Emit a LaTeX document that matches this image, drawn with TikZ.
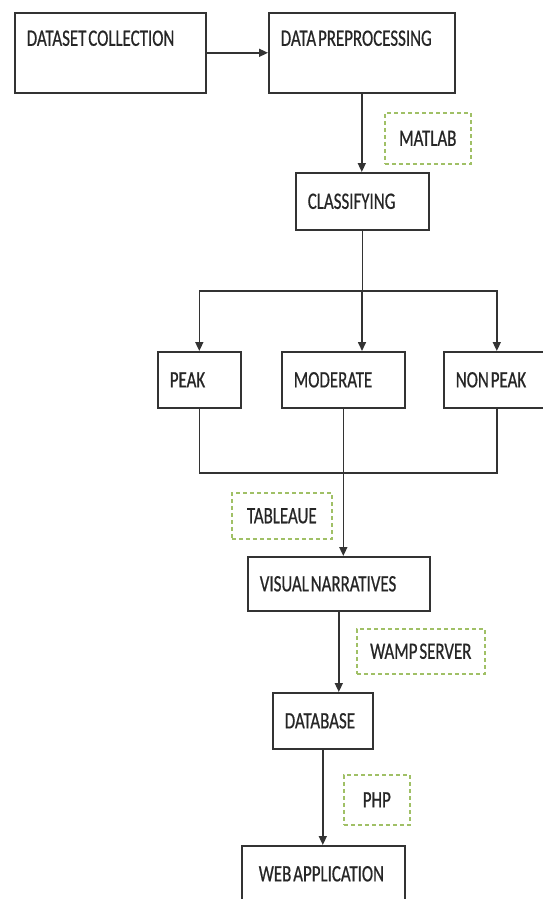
\documentclass[tikz,border=0pt]{standalone}
\usepackage{fontspec}
\setmainfont{Carlito}
\newfontfamily\boxfamily[FakeStretch=0.72, WordSpace=0.5, FakeBold=0.6]{Carlito}
\newcommand{\boxfont}{\boxfamily\fontsize{23.5}{26}\selectfont}
\definecolor{toolgreen}{RGB}{160,192,102}
\usepackage{tikz}
\usetikzlibrary{
  arrows.meta,
  positioning
}

\begin{document}
\begin{tikzpicture}[
  x=1pt, y=-1pt,
  stage/.style={draw=black!80, line width=1.6pt, anchor=north west,
                inner xsep=12pt, inner ysep=0pt, align=flush left,
                font=\boxfont, text=black!85},
  toolbox/.style={draw=toolgreen, dash pattern=on 4pt off 3pt,
                  line width=1.6pt, anchor=north west, inner sep=0pt,
                  font=\boxfont, text=black!85},
  wire/.style={draw=black!80, line width=1.6pt},
  arr/.style={wire, -{Triangle[length=9pt, width=8pt]}}
]
\useasboundingbox (0,0) rectangle (543,899);
\clip (0,0) rectangle (543,899);

% process steps
\node[stage, text width=167pt, text height=33pt, text depth=47pt] (collect) at (14,12) {DATASET COLLECTION};
\node[stage, text width=162pt, text height=33pt, text depth=47pt] (prep) at (268,12) {DATA PREPROCESSING};
\node[stage, text width=109pt, minimum height=57pt] (cls) at (295,172) {CLASSIFYING};

\node[stage, text width=59pt, minimum height=56pt] (peak) at (157,351) {PEAK};
\node[stage, text width=99pt, minimum height=56pt] (mod) at (281,351) {MODERATE};
\node[stage, text width=82pt, minimum height=56pt] (nonpeak) at (443,351) {NON PEAK};

\node[stage, text width=158pt, minimum height=54pt] (vn) at (247,556) {VISUAL NARRATIVES};
\node[stage, text width=76pt, minimum height=56pt] (db) at (272,692) {DATABASE};
\node[stage, inner xsep=17pt, text width=129pt, minimum height=56pt] (web) at (241,845) {WEB APPLICATION};

% tools
\node[toolbox, minimum width=86pt, minimum height=51pt] (matlab) at (384,112) {MATLAB};
\node[toolbox, minimum width=100pt, minimum height=46pt] (tableau) at (231,492) {TABLEAUE};
\node[toolbox, minimum width=128pt, minimum height=45pt] (wamp) at (356,628) {WAMP SERVER};
\node[toolbox, minimum width=66pt, minimum height=50pt] (php) at (343,774) {PHP};

\coordinate (split) at (362,291);
\coordinate (join) at (342,473);

\draw[arr] (collect) -- (prep);
\draw[arr] (prep.south) -- (prep.south |- cls.north);
\draw[wire] (cls.south) -- (cls.south |- split);
\draw[arr] (split) -| (peak.north);
\draw[arr] (split) -- (split |- mod.north);
\draw[arr] (split) -| (nonpeak.north);

\draw[wire] (peak.south) |- (join) -| (nonpeak.south);
\draw[arr] (mod.south) -- (mod.south |- vn.north);
\draw[arr] (vn.south) -- (vn.south |- db.north);
\draw[arr] (db.south) -- (db.south |- web.north);

\end{tikzpicture}
\end{document}
